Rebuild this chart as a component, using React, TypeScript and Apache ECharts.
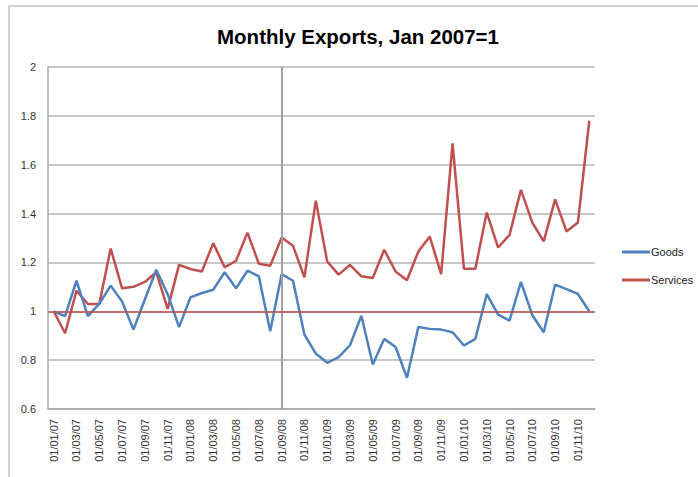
import React, { useEffect, useRef } from "react";
import * as echarts from "echarts";

const months: string[] = [];
const years = ["07", "08", "09", "10"];
for (const y of years) {
  for (let m = 1; m <= 12; m++) {
    months.push(`01/${m < 10 ? "0" + m : m}/${y}`);
  }
}

const goods = [
  1.0, 0.98, 1.125, 0.98, 1.03, 1.105, 1.04, 0.925, 1.048, 1.17, 1.07, 0.935,
  1.057, 1.075, 1.088, 1.16, 1.094, 1.166, 1.143, 0.918, 1.152, 1.125, 0.905, 0.827,
  0.789, 0.812, 0.861, 0.982, 0.782, 0.887, 0.854, 0.728, 0.936, 0.928, 0.925, 0.914,
  0.86, 0.887, 1.07, 0.986, 0.962, 1.12, 0.984, 0.914, 1.109, 1.091, 1.071, 1.0,
];

const services = [
  1.0, 0.91, 1.084, 1.03, 1.03, 1.257, 1.094, 1.1, 1.12, 1.16, 1.01, 1.19,
  1.173, 1.163, 1.279, 1.18, 1.207, 1.322, 1.195, 1.186, 1.302, 1.268, 1.139, 1.453,
  1.204, 1.15, 1.19, 1.143, 1.136, 1.252, 1.163, 1.127, 1.245, 1.306, 1.152, 1.687,
  1.174, 1.174, 1.404, 1.261, 1.313, 1.497, 1.363, 1.286, 1.458, 1.327, 1.363, 1.78,
];

const markerDate = "01/09/08";
const baseline = 1;
const titleText = "Monthly Exports, Jan 2007=1";

export default function App() {
  const ref = useRef<HTMLDivElement>(null);
  useEffect(() => {
    if (!ref.current) return;
    const chart = echarts.init(ref.current, null, { renderer: "svg" });
    const font = "'Liberation Sans', Arial, sans-serif";
    chart.setOption({
      animation: false,
      backgroundColor: "#ffffff",
      textStyle: { fontFamily: font },
      graphic: [
        {
          type: "rect",
          shape: { x: 9, y: 6, width: 720, height: 490 },
          style: { fill: "none", stroke: "#c4c4c4", lineWidth: 1.5 },
          silent: true,
        },
        {
          type: "text",
          x: 358,
          y: 26,
          style: {
            text: titleText,
            fontFamily: font,
            fontWeight: "bold",
            fontSize: 20.5,
            fill: "#000000",
            textAlign: "center",
            textVerticalAlign: "top",
          },
        },
      ],
      legend: {
        orient: "vertical",
        left: 617,
        top: 240,
        icon: "rect",
        itemWidth: 28,
        itemHeight: 3,
        itemGap: 14,
        textStyle: { fontSize: 11, color: "#222", padding: [0, 0, 0, -4], lineHeight: 14 },
        data: ["Goods", "Services"],
      },
      grid: { left: 48, right: 103, top: 67, bottom: 68, containLabel: false },
      xAxis: {
        type: "category",
        data: months,
        boundaryGap: true,
        axisLine: { show: true, lineStyle: { color: "#a8a8a8", width: 1.5 } },
        axisTick: { show: false },
        axisLabel: {
          interval: 1,
          rotate: 90,
          fontSize: 11,
          color: "#333",
          margin: 10,
        },
        splitLine: { show: false },
      },
      yAxis: {
        type: "value",
        min: 0.6,
        max: 2,
        interval: 0.2,
        axisLine: { show: true, lineStyle: { color: "#a8a8a8", width: 1.5 } },
        axisTick: { show: false },
        axisLabel: {
          fontSize: 11,
          color: "#333",
          margin: 12,
          formatter: (v: number) => String(Math.round(v * 10) / 10),
        },
        splitLine: { show: true, lineStyle: { color: "#b4b4b4", width: 1.5 } },
      },
      series: [
        {
          name: "Goods",
          type: "line",
          data: goods,
          symbol: "none",
          lineStyle: { color: "#4f81bd", width: 2.5 },
          itemStyle: { color: "#4f81bd" },
          z: 3,
          markLine: {
            silent: true,
            symbol: "none",
            label: { show: false },
            lineStyle: { color: "#a0a0a0", width: 2, type: "solid" },
            data: [{ xAxis: markerDate }],
          },
        },
        {
          name: "Services",
          type: "line",
          data: services,
          symbol: "none",
          lineStyle: { color: "#c0504d", width: 2.5 },
          itemStyle: { color: "#c0504d" },
          z: 2,
          markLine: {
            silent: true,
            symbol: "none",
            label: { show: false },
            lineStyle: { color: "#c0504d", width: 1.5, type: "solid" },
            data: [{ yAxis: baseline }],
          },
        },
      ],
    });
    return () => chart.dispose();
  }, []);
  return (
    <div
      ref={ref}
      style={{ position: "fixed", left: 0, top: 0, width: 698, height: 477 }}
    />
  );
}
